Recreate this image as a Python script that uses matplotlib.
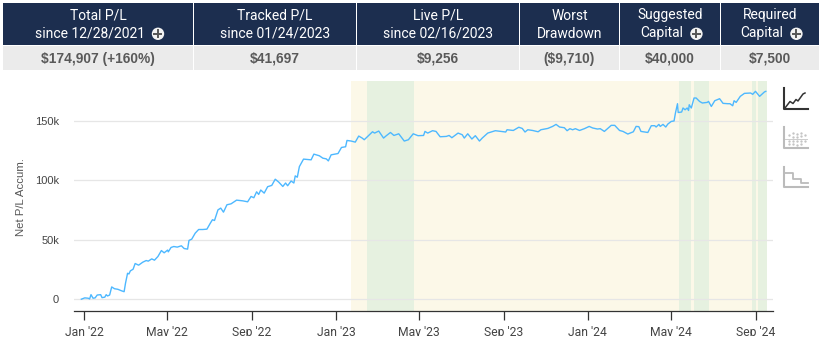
import matplotlib
matplotlib.use("Agg")
import matplotlib.pyplot as plt
from matplotlib.patches import Rectangle, Circle

W, H = 823, 356

header_top = ["Total P/L", "Tracked P/L", "Live P/L", "Worst", "Suggested", "Required"]
header_bottom = ["since 12/28/2021", "since 01/24/2023", "since 02/16/2023", "Drawdown", "Capital", "Capital"]
header_values = ["$174,907 (+160%)", "$41,697", "$9,256", "($9,710)", "$40,000", "$7,500"]
has_plus = [True, False, False, False, True, True]
column_edges = [(3, 193), (194, 356), (357, 519), (520, 619), (620, 720), (721, 819)]

# days since 2022-01-01 and cumulative net P/L in $k
days = [-4, 1, 6, 8, 10, 13, 16, 19, 24, 26, 30, 32, 34, 37, 40, 44, 49, 54, 58, 60, 63, 65, 67, 71, 74, 79, 85, 90, 93,
        98, 102, 107, 112, 116, 121, 122, 126, 130, 135, 141, 145, 150, 152, 156, 161, 166, 172, 178, 183, 186, 189,
        194, 198, 202, 207, 213, 221, 230, 237, 242, 246, 250, 253, 256, 261, 266, 272, 277, 282, 288, 292, 295, 300,
        304, 306, 309, 312, 318, 329, 333, 341, 346, 351, 354, 358, 368, 373, 379, 381, 387, 393, 398, 403, 406, 411,
        418, 421, 427, 434, 438, 444, 449, 456, 464, 470, 477, 484, 492, 494, 498, 505, 510, 516, 525, 529, 533, 542,
        548, 551, 556, 562, 567, 573, 577, 585, 596, 604, 611, 613, 622, 630, 635, 639, 643, 650, 658, 662, 672, 679,
        684, 689, 696, 700, 704, 708, 712, 718, 725, 732, 737, 744, 748, 754, 764, 769, 776, 781, 788, 796, 800, 804,
        807, 817, 822, 827, 829, 833, 835, 839, 843, 846, 851, 855, 857, 860, 861, 866, 868, 871, 874, 876, 877, 880,
        884, 887, 892, 896, 903, 905, 909, 914, 921, 926, 933, 936, 940, 942, 945, 951, 957, 966, 969, 973, 979, 986, 988]
net_pl_k = [0.1, 1.2, 0.9, 0.3, 3.9, 0.9, 1.2, 3.6, 3.9, 1.4, 1.8, 3.9, 2.8, 3.6, 10.4, 8.9, 8.4, 7.2, 6.4, 13.5, 21.9,
            21.3, 23.9, 25.3, 30.1, 28.7, 31.2, 32.6, 32.1, 34.0, 32.9, 36.0, 41.0, 39.1, 41.4, 39.9, 43.6, 44.4, 43.9,
            45.0, 42.7, 42.2, 49.5, 50.6, 55.6, 58.7, 58.7, 59.0, 64.1, 66.9, 66.3, 75.2, 76.7, 73.3, 79.5, 80.3, 83.4,
            82.8, 82.0, 86.5, 85.4, 90.4, 88.2, 91.9, 89.3, 94.7, 95.8, 101.0, 98.6, 94.9, 97.8, 95.5, 99.5, 97.8, 103.8,
            102.7, 111.6, 117.9, 117.3, 122.1, 120.7, 118.7, 118.1, 116.4, 121.5, 122.6, 127.7, 128.3, 133.6, 133.1,
            132.2, 137.3, 135.6, 134.2, 137.0, 140.9, 139.8, 141.5, 135.6, 137.6, 140.3, 137.8, 139.2, 133.1, 134.2,
            139.2, 137.6, 137.8, 141.2, 139.8, 141.8, 141.2, 136.7, 137.0, 137.8, 135.9, 139.8, 138.4, 135.6, 139.2,
            134.8, 137.6, 133.1, 135.6, 139.8, 141.8, 141.2, 140.7, 142.6, 142.0, 144.7, 143.7, 140.7, 142.6, 142.0,
            140.9, 142.6, 143.7, 145.4, 147.1, 144.9, 144.3, 141.8, 143.5, 142.6, 143.5, 142.0, 143.5, 145.4, 144.1,
            143.2, 143.5, 141.2, 146.3, 146.3, 142.0, 141.2, 139.0, 140.9, 145.4, 145.2, 141.2, 140.3, 146.0, 146.0,
            144.9, 147.1, 145.4, 147.1, 144.9, 147.4, 149.6, 150.0, 156.6, 164.5, 157.1, 157.5, 160.9, 159.4, 160.9,
            158.8, 163.6, 160.9, 169.3, 169.3, 166.4, 165.1, 165.6, 166.4, 162.2, 167.0, 168.7, 164.8, 164.5, 164.5,
            162.8, 167.0, 165.6, 170.7, 173.2, 173.5, 172.4, 174.9, 170.7, 174.4, 174.9]

y_ticks = [0, 50, 100, 150]
y_tick_labels = ["0", "50k", "100k", "150k"]
x_ticks = [0, 120, 243, 365, 485, 608, 730, 851, 974]
x_tick_labels = ["Jan '22", "May '22", "Sep '22", "Jan '23", "May '23", "Sep '23", "Jan '24", "May '24", "Sep '24"]

tracked_span = (387, 990)
live_spans = [(410, 478), (862, 880), (884, 906), (968, 974), (976, 989)]

NAVY = "#1C2E4F"
GREY = "#EBEBEB"
VALUE = "#595959"
LINE = "#4DB8FF"
YELLOW = "#FCF8E8"
GREEN = "#E6F1E0"
GRID = "#E6E6E6"

fig = plt.figure(figsize=(W / 100, H / 100), dpi=100, facecolor="white")

# main chart
L, R, T, B = 74, 773, 81, 311
ax = fig.add_axes([L / W, 1 - B / H, (R - L) / W, (B - T) / H])
px_per_day = 0.69
px_per_k = 1.189
ax.set_xlim(-(84.1 - L) / px_per_day, (R - 84.1) / px_per_day)
ax.set_ylim(-(B - 299.3) / px_per_k, (299.3 - T) / px_per_k)

ax.axvspan(*tracked_span, color=YELLOW, lw=0, zorder=0)
for a, b in live_spans:
    ax.axvspan(a, b, color=GREEN, lw=0, zorder=0.5)
ax.grid(axis="y", color=GRID, lw=0.9, zorder=1)
ax.set_axisbelow(True)
ax.plot(days, net_pl_k, color=LINE, lw=1.0, zorder=3, solid_joinstyle="round")

for s in ["top", "left", "right"]:
    ax.spines[s].set_visible(False)
ax.spines["bottom"].set_color("#333333")
ax.spines["bottom"].set_linewidth(0.9)
ax.set_yticks(y_ticks, y_tick_labels, fontfamily="Liberation Sans", fontsize=8.0, color="#444444")
ax.set_xticks(x_ticks, x_tick_labels, fontfamily="Roboto", fontsize=8.7, color="#444444")
ax.tick_params(axis="y", length=0, pad=10.8)
ax.tick_params(axis="x", length=6.5, width=0.9, color="#333333", pad=4.5)
ax.patch.set_alpha(0)

# overlay in pixel coordinates for header and icons
ov = fig.add_axes([0, 0, 1, 1], zorder=5)
ov.set_xlim(0, W)
ov.set_ylim(H, 0)
ov.axis("off")

# tick labels in the source are cut off at the bottom
ov.add_patch(Rectangle((0, 336), W, 20, fc="white", ec="none"))

head_font = dict(family="Roboto", fontsize=10.0, color="white", va="center", ha="center")
for (x0, x1), top, bot, val, plus in zip(column_edges, header_top, header_bottom, header_values, has_plus):
    ov.add_patch(Rectangle((x0, 3), x1 - x0, 42, fc=NAVY, ec="none"))
    ov.add_patch(Rectangle((x0, 46), x1 - x0, 24, fc=GREY, ec="none"))
    cx = (x0 + x1) / 2
    ov.text(cx, 15.5, top, **head_font)
    t = ov.text(cx - (8 if plus else 0), 33.5, bot, **head_font)
    ov.text(cx, 58.5, val, family="Liberation Sans", fontweight="bold", fontsize=9.95, color=VALUE, va="center", ha="center")
    if plus:
        fig.canvas.draw()
        bb = t.get_window_extent()
        c = (bb.x1 + 13, 33.8)
        ov.add_patch(Circle(c, 6.2, fc="#F2F2F2", ec="none"))
        ov.plot([c[0] - 3.5, c[0] + 3.5], [c[1], c[1]], color="#555555", lw=1.4)
        ov.plot([c[0], c[0]], [c[1] - 3.5, c[1] + 3.5], color="#555555", lw=1.4)

ov.text(21, 197, "Net P/L Accum.", family="Liberation Sans", fontsize=8.2, color="#555555",
        rotation=90, va="center", ha="center")

# side icons
ov.plot([784.3, 784.3, 807.7], [88, 109, 109], color="#333333", lw=1.5)
ov.plot([785, 790, 793, 796, 798, 803, 805], [108, 101.5, 103.5, 99.5, 101, 94, 93], color="#333333", lw=1.1)
ov.plot([784.3, 784.3, 807.7], [127, 148, 148], color="#BBBBBB", lw=1.5)
ov.plot([785, 807], [138.5, 138.5], color="#CCCCCC", lw=0.7)
for x, ys in zip([789, 793, 797, 801, 805], [[135, 141, 144], [133, 137, 141, 144], [134, 137, 141, 145], [133, 136, 141, 144], [135, 141]]):
    for y in ys:
        ov.plot(x, y, "o", ms=1.7, color="#C4C4C4", mew=0)
ov.plot([784.3, 784.3, 807.7], [167, 187, 187], color="#BBBBBB", lw=1.5)
ov.plot([785, 793, 793, 801, 801, 807.7], [173, 173, 179, 179, 183, 183], color="#BBBBBB", lw=1.3)

fig.savefig("out.png", dpi=100, facecolor="white")
